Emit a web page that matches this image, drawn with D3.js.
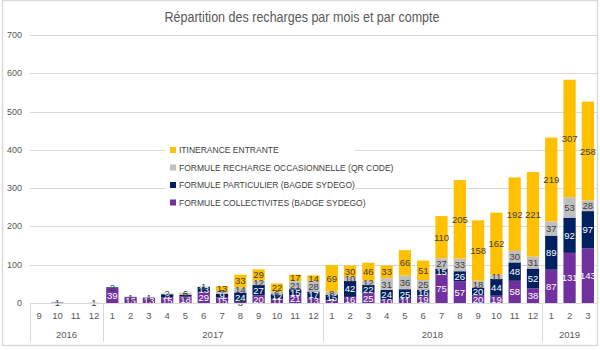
<!DOCTYPE html>
<html>
<head>
<meta charset="utf-8">
<script src="https://cdn.jsdelivr.net/npm/d3@7"></script>
<style>
  body { margin: 0; background: #fff; }
  svg { display: block; font-family: "Liberation Sans", Arial, sans-serif; }
</style>
</head>
<body>
<div id="chart"></div>
<script>
// months, grouped by year
const months = ["9","10","11","12",
  "1","2","3","4","5","6","7","8","9","10","11","12",
  "1","2","3","4","5","6","7","8","9","10","11","12",
  "1","2","3"];
const years = [
  { label: "2016", n: 4 },
  { label: "2017", n: 12 },
  { label: "2018", n: 12 },
  { label: "2019", n: 3 }
];

const seriesNames = [
  "FORMULE COLLECTIVITES (BADGE SYDEGO)",
  "FORMULE PARTICULIER (BAGDE SYDEGO)",
  "FORMULE RECHARGE OCCASIONNELLE (QR CODE)",
  "ITINERANCE ENTRANTE"
];
const colors = ["#7030a0", "#002060", "#bfbfbf", "#ffc000"];
const labelColors = ["#fff", "#fff", "#404040", "#404040"];

const collectivites = [0,0,0,0, 39,15,13,15,18,29,15,3,20,11,21,13, 7,16,25,10,11,19,75,57,20,19,58,38, 87,131,143];
const particulier   = [0,1,0,0, 2,1,1,8,3,13,9,24,27,12,15,17, 15,42,22,24,25,16,15,26,20,44,48,52, 89,92,97];
const occasionnelle = [0,0,0,1, 0,0,0,2,6,1,7,14,12,6,21,28, 8,10,12,31,36,25,27,33,18,11,30,31, 37,53,28];
const itinerance    = [0,0,0,0, 0,0,0,0,0,0,13,33,29,22,17,14, 69,30,46,33,66,51,110,205,158,162,192,221, 219,307,258];

const yTicks = [0,100,200,300,400,500,600,700];

const width = 600, height = 350;
const svg = d3.select("#chart").append("svg")
  .attr("width", width).attr("height", height);

// outer frame
svg.append("rect")
  .attr("x", 2.5).attr("y", 0.5).attr("width", 595).attr("height", 345)
  .attr("fill", "none").attr("stroke", "#d9d9d9").attr("stroke-width", 1.5);

svg.append("text")
  .attr("x", 302).attr("y", 22)
  .attr("text-anchor", "middle")
  .attr("font-size", 14).attr("fill", "#595959")
  .attr("textLength", 275).attr("lengthAdjust", "spacingAndGlyphs")
  .text("Répartition des recharges par mois et par compte");

const keys = months.map((m, i) => i);
const x = d3.scaleBand().domain(keys).range([30, 597]).paddingInner(0.33).paddingOuter(0.165);
const y = d3.scaleLinear().domain([0, 700]).range([303, 35]);

// gridlines
svg.append("g").selectAll("line").data(yTicks.slice(1)).join("line")
  .attr("x1", 30).attr("x2", 597)
  .attr("y1", d => Math.round(y(d)) + 0.5).attr("y2", d => Math.round(y(d)) + 0.5)
  .attr("stroke", "#d9d9d9");

svg.append("g").selectAll("text").data(yTicks).join("text")
  .attr("x", 22).attr("y", d => y(d) + 3)
  .attr("text-anchor", "end").attr("font-size", 9).attr("fill", "#595959")
  .text(d => d);

const table = keys.map(i => ({
  i, s0: collectivites[i], s1: particulier[i], s2: occasionnelle[i], s3: itinerance[i]
}));
const stack = d3.stack().keys(["s0","s1","s2","s3"])(table);

const layers = svg.append("g").selectAll("g").data(stack).join("g")
  .attr("fill", (d, k) => colors[k]);
layers.selectAll("rect").data(d => d).join("rect")
  .attr("x", d => x(d.data.i))
  .attr("width", x.bandwidth())
  .attr("y", d => y(d[1]))
  .attr("height", d => y(d[0]) - y(d[1]));

// value labels
stack.forEach((layer, k) => {
  svg.append("g").selectAll("text").data(layer.filter(d => d[1] - d[0] > 0)).join("text")
    .attr("x", d => x(d.data.i) + x.bandwidth() / 2)
    .attr("y", d => y((d[0] + d[1]) / 2) + 3.5)
    .attr("text-anchor", "middle")
    .attr("font-size", 9.5)
    .attr("fill", d => (d[1] - d[0] < 4) ? "#404040" : labelColors[k])
    .text(d => d[1] - d[0]);
});

// x axis baseline
svg.append("line")
  .attr("x1", 30).attr("x2", 597).attr("y1", 303.5).attr("y2", 303.5)
  .attr("stroke", "#d9d9d9");

svg.append("g").selectAll("text").data(keys).join("text")
  .attr("x", d => x(d) + x.bandwidth() / 2).attr("y", 319)
  .attr("text-anchor", "middle").attr("font-size", 9.5).attr("fill", "#595959")
  .text(d => months[d]);

// year groups
let start = 0;
const sepX = [30];
years.forEach(yr => {
  const x0 = 30 + start * x.step();
  const x1 = 30 + (start + yr.n) * x.step();
  sepX.push(x1);
  svg.append("text")
    .attr("x", (x0 + x1) / 2).attr("y", 338)
    .attr("text-anchor", "middle").attr("font-size", 9.5).attr("fill", "#595959")
    .text(yr.label);
  start += yr.n;
});
svg.append("g").selectAll("line").data(sepX).join("line")
  .attr("x1", d => Math.round(d) + 0.5).attr("x2", d => Math.round(d) + 0.5)
  .attr("y1", 303).attr("y2", 342)
  .attr("stroke", "#d9d9d9");

// legend
const lg = svg.append("g").attr("transform", "translate(165,140)");
lg.append("rect").attr("width", 190).attr("height", 70).attr("fill", "#fff");
const legendOrder = [3, 2, 1, 0];
legendOrder.forEach((k, j) => {
  const ly = 10 + j * 17.5;
  lg.append("rect").attr("x", 5).attr("y", ly - 3).attr("width", 6).attr("height", 6).attr("fill", colors[k]);
  lg.append("text").attr("x", 14).attr("y", ly + 3)
    .attr("font-size", 8.5).attr("fill", "#404040")
    .text(seriesNames[k]);
});
</script>
</body>
</html>
